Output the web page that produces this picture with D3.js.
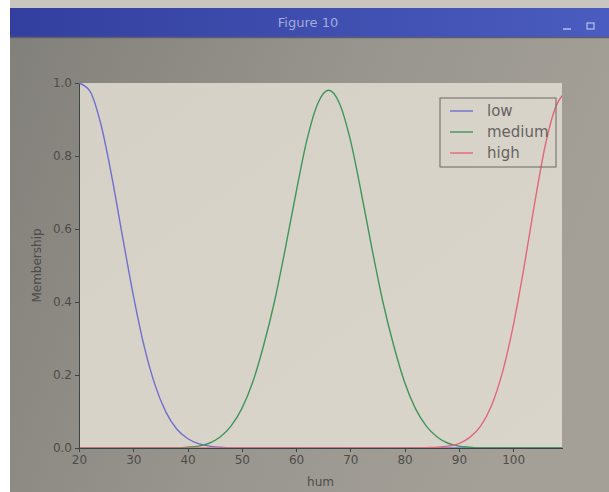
<!DOCTYPE html>
<html lang="en">
    <head>
        <meta charset="utf-8">
        <title>Figure 10</title>
        <script type="text/javascript" src="https://cdn.jsdelivr.net/npm/d3@7"></script>
        <style>
            body { margin: 0; background: #ffffff; }
            .axis path,
            .axis line {
                fill: none;
                stroke: #3c4446;
                shape-rendering: crispEdges;
            }
            .axis text {
                font-family: "DejaVu Sans", sans-serif;
                font-size: 12px;
                fill: #4d4c49;
            }
        </style>
    </head>
    <body>
        <script type="text/javascript">
            var w = 609;
            var h = 492;

            // values
            var hum    = [20, 22, 24, 26, 28, 30, 32, 34, 36, 38, 40, 42, 44, 46, 48, 50, 52, 54, 56, 58, 60, 62, 64,
                          66, 68, 70, 72, 74, 76, 78, 80, 82, 84, 86, 88, 90, 92, 94, 96, 98, 100, 102, 104, 106, 108, 109];
            var low    = [1.0, 0.978, 0.889, 0.747, 0.581, 0.419, 0.279, 0.173, 0.099, 0.052, 0.026, 0.012, 0.005, 0.002,
                          0, 0, 0, 0, 0, 0, 0, 0, 0, 0, 0, 0, 0, 0, 0, 0, 0, 0, 0, 0, 0, 0, 0, 0, 0, 0, 0, 0, 0, 0, 0, 0];
            var medium = [0, 0, 0, 0, 0, 0, 0, 0, 0, 0, 0.002, 0.005, 0.013, 0.030, 0.060, 0.108, 0.180, 0.280, 0.400, 0.545,
                          0.70, 0.844, 0.944, 0.98, 0.944, 0.844, 0.70, 0.545, 0.400, 0.280, 0.180, 0.108, 0.060, 0.030,
                          0.013, 0.005, 0.002, 0, 0, 0, 0, 0, 0, 0, 0, 0];
            var high   = [0, 0, 0, 0, 0, 0, 0, 0, 0, 0, 0, 0, 0, 0, 0, 0, 0, 0, 0, 0, 0, 0, 0, 0, 0, 0, 0, 0, 0, 0, 0, 0,
                          0.001, 0.002, 0.005, 0.012, 0.029, 0.060, 0.116, 0.206, 0.334, 0.495, 0.674, 0.835, 0.94, 0.965];
            var seriesNames  = ["low", "medium", "high"];
            var seriesColors = ["#6f6fcf", "#3f9658", "#e2677a"];
            var xticks = [20, 30, 40, 50, 60, 70, 80, 90, 100];
            var yticks = [0.0, 0.2, 0.4, 0.6, 0.8, 1.0];

            var series = [low, medium, high];

            // plot box (note: "top" is a reserved window property, so use p* names)
            var pLeft = 79, pRight = 562, pTop = 83, pBottom = 448;

            var xscale = d3.scaleLinear().domain([20, 109]).range([pLeft, pRight]);
            var yscale = d3.scaleLinear().domain([0, 1]).range([pBottom, pTop]);

            var svg = d3.select("body").append("svg").attr("width", w).attr("height", h);

            var defs = svg.append("defs");
            var bodyGrad = defs.append("linearGradient").attr("id", "bodyGrad")
                               .attr("x1", "0%").attr("y1", "0%").attr("x2", "100%").attr("y2", "30%");
            bodyGrad.append("stop").attr("offset", "0%").attr("stop-color", "#82807a");
            bodyGrad.append("stop").attr("offset", "55%").attr("stop-color", "#98958e");
            bodyGrad.append("stop").attr("offset", "100%").attr("stop-color", "#a4a098");
            var barGrad = defs.append("linearGradient").attr("id", "barGrad")
                              .attr("x1", "0%").attr("y1", "0%").attr("x2", "100%").attr("y2", "0%");
            barGrad.append("stop").attr("offset", "0%").attr("stop-color", "#333f9e");
            barGrad.append("stop").attr("offset", "100%").attr("stop-color", "#4a5cbf");
            var plotGrad = defs.append("linearGradient").attr("id", "plotGrad")
                               .attr("x1", "0%").attr("y1", "0%").attr("x2", "100%").attr("y2", "100%");
            plotGrad.append("stop").attr("offset", "0%").attr("stop-color", "#d6d1c7");
            plotGrad.append("stop").attr("offset", "100%").attr("stop-color", "#dad5cb");

            // window: toolbar strip, title bar, body
            svg.append("rect").attr("x", 10).attr("y", 0).attr("width", w - 10).attr("height", 9).attr("fill", "#c9c6bf");
            svg.append("rect").attr("x", 10).attr("y", 8).attr("width", w - 10).attr("height", 29).attr("fill", "url(#barGrad)");
            svg.append("rect").attr("x", 10).attr("y", 37).attr("width", w - 10).attr("height", h - 37).attr("fill", "url(#bodyGrad)");
            svg.append("line").attr("x1", 10).attr("x2", w).attr("y1", 37.5).attr("y2", 37.5)
               .attr("stroke", "#5c5e70").attr("stroke-width", 1.5);

            svg.append("text").text("Figure 10")
               .attr("x", 308).attr("y", 27).attr("text-anchor", "middle")
               .attr("font-family", "DejaVu Sans, sans-serif").attr("font-size", "13px")
               .attr("fill", "#a3abdc");
            svg.append("line").attr("x1", 563).attr("x2", 571).attr("y1", 29).attr("y2", 29)
               .attr("stroke", "#b8c0e6").attr("stroke-width", 1.5);
            svg.append("rect").attr("x", 587).attr("y", 23).attr("width", 7).attr("height", 6)
               .attr("fill", "none").attr("stroke", "#b8c0e6").attr("stroke-width", 1.2);

            // plot background
            svg.append("rect").attr("x", pLeft).attr("y", pTop).attr("width", pRight - pLeft).attr("height", pBottom - pTop)
               .attr("fill", "url(#plotGrad)");

            var line = d3.line()
                         .x(function (d) { return xscale(d[0]); })
                         .y(function (d) { return yscale(d[1]); })
                         .curve(d3.curveMonotoneX);

            svg.append("g").selectAll("path").data(series).enter().append("path")
               .attr("d", function (s) { return line(hum.map(function (x, i) { return [x, s[i]]; })); })
               .attr("fill", "none")
               .attr("stroke", function (s, i) { return seriesColors[i]; })
               .attr("stroke-width", 1.4);

            var xaxis = d3.axisBottom(xscale).tickValues(xticks).tickSize(4).tickPadding(3).tickSizeOuter(0);
            var yaxis = d3.axisLeft(yscale).tickValues(yticks).tickSize(4).tickPadding(3).tickSizeOuter(0)
                          .tickFormat(d3.format(".1f"));

            svg.append("g").attr("class", "x axis")
               .attr("transform", "translate(0," + pBottom + ")")
               .call(xaxis);
            svg.append("g").attr("class", "y axis")
               .attr("transform", "translate(" + pLeft + ",0)")
               .call(yaxis);

            svg.append("text").text("hum")
               .attr("x", xscale(64.5)).attr("y", 486).attr("text-anchor", "middle")
               .attr("font-family", "DejaVu Sans, sans-serif").attr("font-size", "12px").attr("fill", "#4d4c49");
            svg.append("text").text("Membership")
               .attr("transform", "translate(41," + yscale(0.5) + ") rotate(-90)")
               .attr("text-anchor", "middle")
               .attr("font-family", "DejaVu Sans, sans-serif").attr("font-size", "12px").attr("fill", "#4d4c49");

            // legend
            var legend = svg.append("g").attr("transform", "translate(440,98)");
            legend.append("rect").attr("x", 0).attr("y", 0).attr("width", 116).attr("height", 69)
                  .attr("fill", "none").attr("stroke", "#6a6864").attr("stroke-width", 1);
            var entries = legend.selectAll("g.entry").data(seriesNames).enter().append("g")
                                .attr("class", "entry")
                                .attr("transform", function (d, i) { return "translate(0," + (13 + i * 21) + ")"; });
            entries.append("line").attr("x1", 10).attr("x2", 33).attr("y1", 0).attr("y2", 0)
                   .attr("stroke", function (d, i) { return seriesColors[i]; }).attr("stroke-width", 1.4);
            entries.append("text").text(function (d) { return d; })
                   .attr("x", 47).attr("y", 5)
                   .attr("font-family", "DejaVu Sans, sans-serif").attr("font-size", "15px").attr("fill", "#66635f");
        </script>
    </body>
</html>
